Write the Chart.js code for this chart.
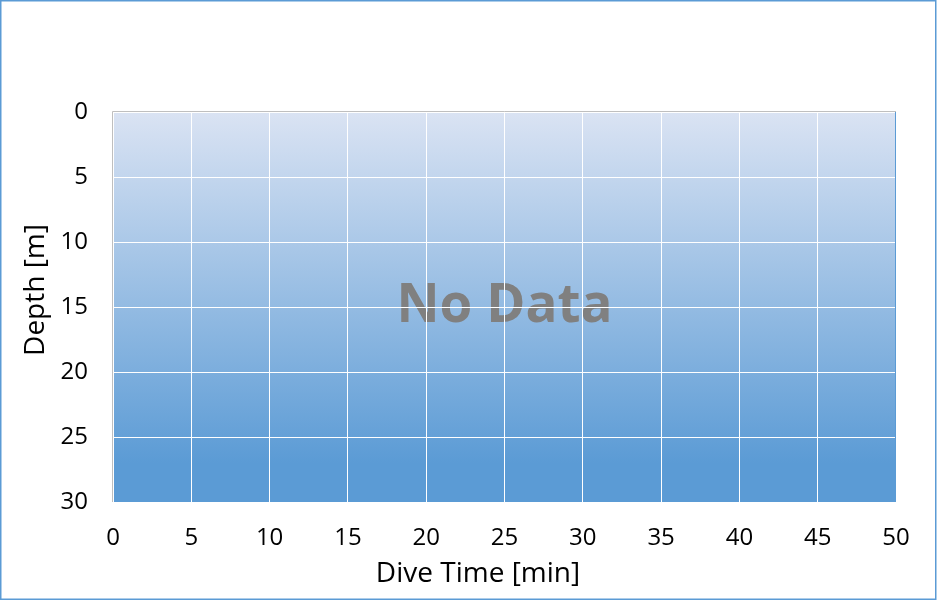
<!DOCTYPE html>
<html>
<head>
<meta charset="utf-8">
<title>Dive Profile</title>
<script src="https://cdn.jsdelivr.net/npm/chart.js@4.4.1/dist/chart.umd.min.js"></script>
<style>
    body { margin: 0; background: #fff; }
    #wrap { width: 937px; height: 601px; }
</style>
</head>
<body>
<div id="wrap"><canvas id="myChart" width="937" height="601"></canvas></div>
<script>
// no samples in this dive yet
const diveTime = [];
const depth = [];

const xTicks = [0, 5, 10, 15, 20, 25, 30, 35, 40, 45, 50];
const yTicks = [0, 5, 10, 15, 20, 25, 30];

const xTitle = 'Dive Time [min]';
const yTitle = 'Depth [m]';
const emptyText = 'No Data';

const points = diveTime.map((t, i) => ({ x: t, y: depth[i] }));

const plotBackground = {
    id: 'plotBackground',
    beforeDraw: function (chart) {
        var ctx = chart.ctx;
        var area = chart.chartArea;
        ctx.save();
        ctx.fillStyle = '#ffffff';
        ctx.fillRect(0, 0, chart.width, chart.height);

        var grad = ctx.createLinearGradient(0, area.top, 0, area.bottom);
        grad.addColorStop(0, '#dae3f3');
        grad.addColorStop(0.9, '#5b9bd5');
        grad.addColorStop(1, '#5b9bd5');
        ctx.fillStyle = grad;
        ctx.fillRect(area.left, area.top, area.right - area.left, area.bottom - area.top);

        if (points.length === 0) {
            ctx.fillStyle = '#808080';
            ctx.font = 'bold 53px "Open Sans"';
            ctx.textAlign = 'center';
            ctx.textBaseline = 'middle';
            ctx.fillText(emptyText, (area.left + area.right) / 2, (area.top + area.bottom) / 2);
        }
        ctx.restore();
    },
    afterDraw: function (chart) {
        var ctx = chart.ctx;
        var area = chart.chartArea;
        ctx.save();

        // plot frame
        ctx.lineWidth = 1;
        ctx.strokeStyle = '#bfbfbf';
        ctx.beginPath();
        ctx.moveTo(area.left - 0.5, area.bottom);
        ctx.lineTo(area.left - 0.5, area.top - 0.5);
        ctx.lineTo(area.right, area.top - 0.5);
        ctx.stroke();
        ctx.strokeStyle = '#5b9bd5';
        ctx.beginPath();
        ctx.moveTo(area.right - 0.5, area.top);
        ctx.lineTo(area.right - 0.5, area.bottom);
        ctx.stroke();

        // axis titles
        ctx.fillStyle = '#000000';
        ctx.font = '28px "Open Sans"';
        ctx.textAlign = 'center';
        ctx.textBaseline = 'middle';
        ctx.fillText(xTitle, 478, 574);
        ctx.translate(36, 290);
        ctx.rotate(-Math.PI / 2);
        ctx.fillText(yTitle, 0, 0);
        ctx.restore();

        // outer border
        ctx.save();
        ctx.lineWidth = 1.5;
        ctx.strokeStyle = '#5b9bd5';
        ctx.strokeRect(0.75, 0.75, 935, 598.5);
        ctx.restore();
    }
};

var ctx = document.getElementById('myChart').getContext('2d');

new Chart(ctx, {
    type: 'scatter',
    data: {
        datasets: [{
            label: 'Depth',
            data: points,
            borderColor: '#1f4e79',
            backgroundColor: '#1f4e79',
            showLine: true
        }]
    },
    options: {
        responsive: false,
        animation: false,
        devicePixelRatio: 1,
        layout: {
            padding: { top: 112, right: 41, left: 0, bottom: 0 }
        },
        plugins: {
            legend: { display: false },
            tooltip: { enabled: false }
        },
        scales: {
            x: {
                type: 'linear',
                min: 0,
                max: 50,
                afterFit: function (scale) { scale.height = 99; },
                afterBuildTicks: function (scale) {
                    scale.ticks = xTicks.map(v => ({ value: v }));
                },
                border: { display: false },
                grid: { color: '#ffffff', lineWidth: 1, drawTicks: false },
                ticks: {
                    padding: 22,
                    color: '#000000',
                    font: { family: 'Open Sans', size: 24 }
                }
            },
            y: {
                type: 'linear',
                reverse: true,
                min: 0,
                max: 30,
                afterFit: function (scale) { scale.width = 113; },
                afterBuildTicks: function (scale) {
                    scale.ticks = yTicks.map(v => ({ value: v }));
                },
                border: { display: false },
                grid: { color: '#ffffff', lineWidth: 1, drawTicks: false },
                ticks: {
                    padding: 25,
                    color: '#000000',
                    font: { family: 'Open Sans', size: 24 }
                }
            }
        }
    },
    plugins: [plotBackground]
});
</script>
</body>
</html>
